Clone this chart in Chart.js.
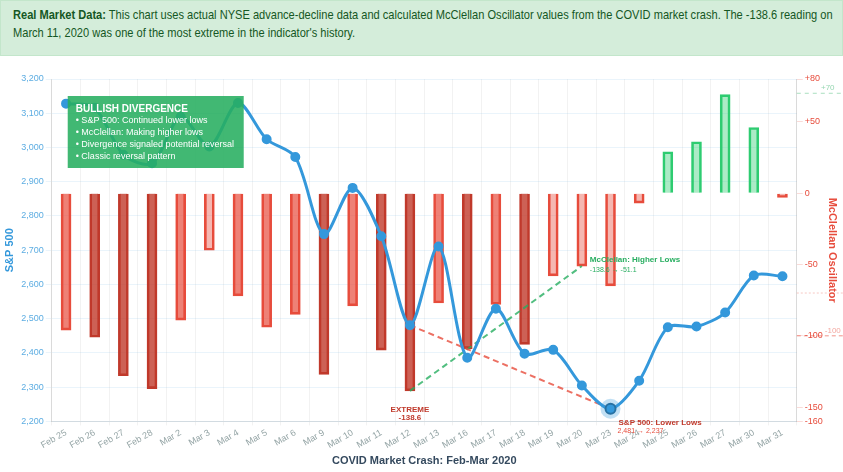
<!DOCTYPE html>
<html>
<head>
<meta charset="utf-8">
<script src="https://cdn.jsdelivr.net/npm/chart.js@4/dist/chart.umd.min.js"></script>
<style>
  body { margin: 0; background: #fff; width: 843px; height: 472px; overflow: hidden; }
  .note {
    background: #d4edda; border: 1px solid #c3e6cb; color: #155724;
    height: 56px; box-sizing: border-box; padding: 5px 12px 0 12px; overflow: hidden;
  }
  .note .txt {
    font: 13px "Liberation Sans", Arial, sans-serif; line-height: 18px;
    width: 968px; transform: scaleX(0.852); transform-origin: 0 0;
  }
  .wrap { position: relative; width: 843px; height: 416px; }
</style>
</head>
<body>
<div class="note"><div class="txt"><b>Real Market Data:</b> This chart uses actual NYSE advance-decline data and calculated McClellan Oscillator values from the COVID market crash. The -138.6 reading on March 11, 2020 was one of the most extreme in the indicator's history.</div></div>
<div class="wrap"><canvas id="myChart"></canvas></div>
<script>
const dates = ['Feb 25','Feb 26','Feb 27','Feb 28','Mar 2','Mar 3','Mar 4','Mar 5','Mar 6','Mar 9','Mar 10','Mar 11','Mar 12','Mar 13','Mar 16','Mar 17','Mar 18','Mar 19','Mar 20','Mar 23','Mar 24','Mar 25','Mar 26','Mar 27','Mar 30','Mar 31'];
const spx = [3128, 3116, 2979, 2954, 3090, 3003, 3130, 3024, 2972, 2747, 2882, 2741, 2481, 2711, 2386, 2529, 2398, 2409, 2305, 2237, 2319, 2475, 2477, 2518, 2626, 2624];
const mcclellan = [-96, -101, -128, -137, -89, -40, -72, -94, -85, -127, -79, -110, -138.6, -77, -109, -78, -106, -58, -51.1, -65, -7, 29, 36, 69, 46, -3];
const mccTicks = [80, 50, 0, -50, -100, -150, -160];
const refLevels = [70, -70, -100];
const bulletLines = ['BULLISH DIVERGENCE', '• S&P 500: Continued lower lows', '• McClellan: Making higher lows', '• Divergence signaled potential reversal', '• Classic reversal pattern'];

const iExtreme = dates.indexOf('Mar 12');
const iMccLow = dates.indexOf('Mar 20');
const iSpxLow = dates.indexOf('Mar 23');
const FONT = '"Liberation Sans", Arial, sans-serif';

function barFill(v) {
  if (v >= 0) return 'rgba(46, 204, 113, 0.4)';
  if (v < -100) return 'rgba(192, 57, 43, 0.8)';
  if (v < -70) return 'rgba(231, 76, 60, 0.7)';
  return 'rgba(231, 76, 60, 0.4)';
}
function barBorder(v) {
  if (v >= 0) return '#2ecc71';
  if (v < -100) return '#c0392b';
  return '#e74c3c';
}

// dashed divergence lines, only the two end points
const spxTrend = spx.map((v, i) => (i === iExtreme || i === iSpxLow) ? v : null);
const mccTrend = mcclellan.map((v, i) => (i === iExtreme || i === iMccLow) ? v : null);

const overlay = {
  id: 'overlay',
  afterDatasetsDraw(chart) {
    const { ctx, chartArea, scales } = chart;
    const x = scales.x, y = scales.y, y1 = scales.y1;
    ctx.save();

    // halo on the S&P low
    const hx = x.getPixelForValue(iSpxLow), hy = y.getPixelForValue(spx[iSpxLow]);
    ctx.fillStyle = 'rgba(52, 152, 219, 0.3)';
    ctx.beginPath(); ctx.arc(hx, hy, 10, 0, Math.PI * 2); ctx.fill();

    // reference levels in the right margin
    refLevels.forEach((lv) => {
      const py = y1.getPixelForValue(lv);
      ctx.beginPath();
      if (lv > 0) { ctx.strokeStyle = 'rgba(39, 174, 96, 0.4)'; ctx.setLineDash([4, 4]); }
      else if (lv === -70) { ctx.strokeStyle = 'rgba(231, 76, 60, 0.3)'; ctx.setLineDash([2, 2]); }
      else { ctx.strokeStyle = 'rgba(231, 76, 60, 0.6)'; ctx.setLineDash([4, 3]); }
      ctx.lineWidth = 1;
      ctx.moveTo(chartArea.right, py); ctx.lineTo(chart.width, py); ctx.stroke();
    });
    ctx.setLineDash([]);
    ctx.textBaseline = 'middle';
    ctx.font = '8px ' + FONT;
    ctx.textAlign = 'center';
    ctx.fillStyle = 'rgba(39, 174, 96, 0.5)';
    ctx.fillText('+70', chartArea.right + 31, y1.getPixelForValue(70) - 5);
    ctx.fillStyle = 'rgba(231, 76, 60, 0.5)';
    ctx.fillText('-100', chartArea.right + 36, y1.getPixelForValue(-100) - 5);

    // extreme label
    const ex = x.getPixelForValue(iExtreme);
    const ey = y1.getPixelForValue(mcclellan[iExtreme]);
    ctx.fillStyle = '#c0392b';
    ctx.font = 'bold 8px ' + FONT;
    ctx.fillText('EXTREME', ex, ey + 19);
    ctx.fillText('-138.6', ex, ey + 27);

    // mcclellan higher lows label
    const mx = x.getPixelForValue(iMccLow) + 8;
    const my = y1.getPixelForValue(mcclellan[iMccLow]);
    ctx.textAlign = 'left';
    ctx.fillStyle = '#27ae60';
    ctx.font = 'bold 8px ' + FONT;
    ctx.fillText('McClellan: Higher Lows', mx, my - 6);
    ctx.font = '7px ' + FONT;
    ctx.fillText('-138.6 → -51.1', mx, my + 4);

    // s&p lower lows label
    const sx = x.getPixelForValue(iSpxLow) + 8;
    const sy = y.getPixelForValue(spx[iSpxLow]);
    ctx.fillStyle = '#c0392b';
    ctx.font = 'bold 8px ' + FONT;
    ctx.fillText('S&P 500: Lower Lows', sx, sy + 14);
    ctx.fillStyle = '#e74c3c';
    ctx.font = '7px ' + FONT;
    ctx.fillText('2,481 → 2,237', sx - 1, sy + 22);

    // divergence box
    const bx = chartArea.left + 16, by = chartArea.top + 17;
    ctx.fillStyle = 'rgba(39, 174, 96, 0.88)';
    ctx.fillRect(bx, by, 176, 72);
    ctx.fillStyle = '#fff';
    bulletLines.forEach((t, i) => {
      ctx.font = (i === 0 ? 'bold 10px ' : '9px ') + FONT;
      ctx.fillText(t, bx + 8, by + 13 + i * 12);
    });
    ctx.restore();
  }
};

const ctx = document.getElementById('myChart').getContext('2d');
new Chart(ctx, {
  data: {
    labels: dates,
    datasets: [
      {
        type: 'line',
        label: 'S&P 500',
        data: spx,
        yAxisID: 'y',
        borderColor: '#3498db',
        backgroundColor: '#3498db',
        borderWidth: 3,
        tension: 0.3,
        pointRadius: (c) => c.dataIndex === iSpxLow ? 5 : 4,
        pointBackgroundColor: '#3498db',
        pointBorderColor: (c) => c.dataIndex === iSpxLow ? '#21618c' : '#3498db',
        pointBorderWidth: 2,
        order: 1,
      },
      {
        type: 'line',
        label: 'S&P trend',
        data: spxTrend,
        yAxisID: 'y',
        spanGaps: true,
        borderColor: 'rgba(231, 76, 60, 0.8)',
        borderDash: [6, 4],
        borderWidth: 2,
        pointRadius: 0,
        order: 2,
      },
      {
        type: 'line',
        label: 'McClellan trend',
        data: mccTrend,
        yAxisID: 'y1',
        spanGaps: true,
        borderColor: 'rgba(39, 174, 96, 0.8)',
        borderDash: [6, 4],
        borderWidth: 2,
        pointRadius: 0,
        order: 2,
      },
      {
        type: 'bar',
        label: 'McClellan Oscillator',
        data: mcclellan,
        yAxisID: 'y1',
        backgroundColor: mcclellan.map(barFill),
        borderColor: mcclellan.map(barBorder),
        borderWidth: 2,
        barThickness: 10,
        order: 3,
      },
    ],
  },
  options: {
    responsive: true,
    maintainAspectRatio: false,
    animation: false,
    layout: { padding: { top: 23, left: 0, right: 3, bottom: 0 } },
    plugins: { legend: { display: false }, tooltip: { enabled: false } },
    scales: {
      x: {
        grid: { color: 'rgba(0, 0, 0, 0.05)', tickLength: 4 },
        ticks: { color: '#95a5a6', font: { size: 9 }, minRotation: 30, maxRotation: 30, autoSkip: false, padding: 2 },
        title: { display: true, text: 'COVID Market Crash: Feb-Mar 2020', color: '#34495e', font: { size: 11, weight: 'bold' }, padding: { top: 2, bottom: 4 } },
      },
      y: {
        position: 'left',
        min: 2200,
        max: 3200,
        grid: { color: 'rgba(52, 152, 219, 0.1)', tickLength: 6 },
        ticks: { color: '#5dade2', font: { size: 9 }, stepSize: 100, padding: 2 },
        title: { display: true, text: 'S&P 500', color: '#3498db', font: { size: 11, weight: 'bold' }, padding: { top: 3, bottom: 3 } },
      },
      y1: {
        position: 'right',
        min: -160,
        max: 80,
        grid: { drawOnChartArea: false, color: 'rgba(231, 76, 60, 0.2)', tickLength: 6 },
        ticks: {
          color: '#e74c3c',
          font: { size: 9 },
          padding: 2,
          callback: (v) => v > 0 ? '+' + v : v,
        },
        afterBuildTicks: (axis) => { axis.ticks = mccTicks.map((v) => ({ value: v })); },
        title: { display: true, text: 'McClellan Oscillator', color: '#e74c3c', font: { size: 11, weight: 'bold' }, padding: { top: 1, bottom: 1 } },
      },
    },
  },
  plugins: [overlay],
});
</script>
</body>
</html>
